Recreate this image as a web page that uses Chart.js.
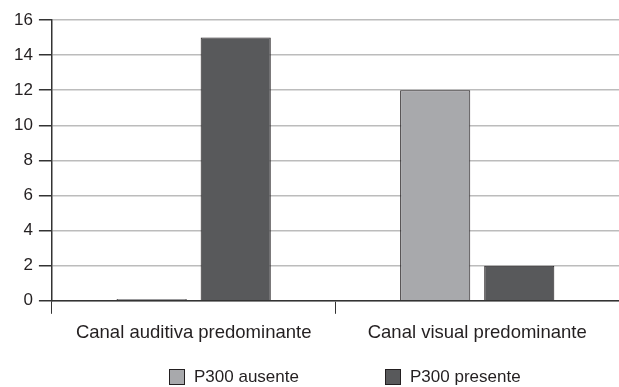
<!DOCTYPE html>
<html lang="pt">
<head>
    <meta charset="UTF-8">
    <title>P300 por canal predominante</title>
    <script src="https://cdn.jsdelivr.net/npm/chart.js"></script>
    <style>
        body { margin: 0; background: #fff; }
        #wrap { position: relative; width: 619px; height: 387px; }
        #legend { position: absolute; top: 367px; left: 0; width: 619px; height: 20px;
                  font-family: "Liberation Sans", Arial, sans-serif; font-size: 17px; color: #231f20; }
        .item { position: absolute; top: 0; display: flex; align-items: center; }
        .box { width: 14px; height: 14px; border: 1px solid #231f20; margin-right: 9px; }
    </style>
</head>
<body>
    <div id="wrap">
        <canvas id="myChart" width="619" height="387"></canvas>
        <div id="legend"></div>
    </div>
    <script>
        // data
        const categories = ['Canal auditiva predominante', 'Canal visual predominante'];
        const seriesNames = ['P300 ausente', 'P300 presente'];
        const ausente = [0.1, 12];
        const presente = [15, 2];
        const yTicks = [0, 2, 4, 6, 8, 10, 12, 14, 16];
        const colors = ['#a8a9ac', '#58595b'];

        const family = '"Liberation Sans", Arial, sans-serif';

        const ctx = document.getElementById('myChart').getContext('2d');
        const myChart = new Chart(ctx, {
            type: 'bar',
            data: {
                labels: categories,
                datasets: [ausente, presente].map((d, i) => ({
                    label: seriesNames[i],
                    data: d,
                    backgroundColor: colors[i],
                    borderColor: '#231f20',
                    borderWidth: 1,
                    barPercentage: 0.834,
                    categoryPercentage: 0.593
                }))
            },
            options: {
                responsive: false,
                animation: false,
                layout: { padding: { left: 8, top: 20, right: 0, bottom: 35 } },
                plugins: {
                    legend: { display: false },
                    tooltip: { enabled: false }
                },
                scales: {
                    x: {
                        offset: true,
                        grid: { offset: true, drawOnChartArea: false, tickLength: 13, tickColor: '#333', lineWidth: 1 },
                        border: { color: '#333', width: 1.5 },
                        ticks: { font: { family: family, size: 18.5 }, color: '#231f20', padding: 8, maxRotation: 0 }
                    },
                    y: {
                        min: 0,
                        max: 16,
                        afterBuildTicks: axis => { axis.ticks = yTicks.map(v => ({ value: v })); },
                        grid: { color: '#bcbcbc', lineWidth: 1.5, tickLength: 13, tickColor: '#333' },
                        border: { color: '#333', width: 1.5 },
                        ticks: { font: { family: family, size: 17 }, color: '#231f20', padding: 6 }
                    }
                }
            }
        });

        // legend
        const legend = document.getElementById('legend');
        const lefts = [169, 385];
        seriesNames.forEach((name, i) => {
            const item = document.createElement('div');
            item.className = 'item';
            item.style.left = lefts[i] + 'px';
            const box = document.createElement('span');
            box.className = 'box';
            box.style.background = colors[i];
            item.appendChild(box);
            item.appendChild(document.createTextNode(name));
            legend.appendChild(item);
        });
    </script>
</body>
</html>
